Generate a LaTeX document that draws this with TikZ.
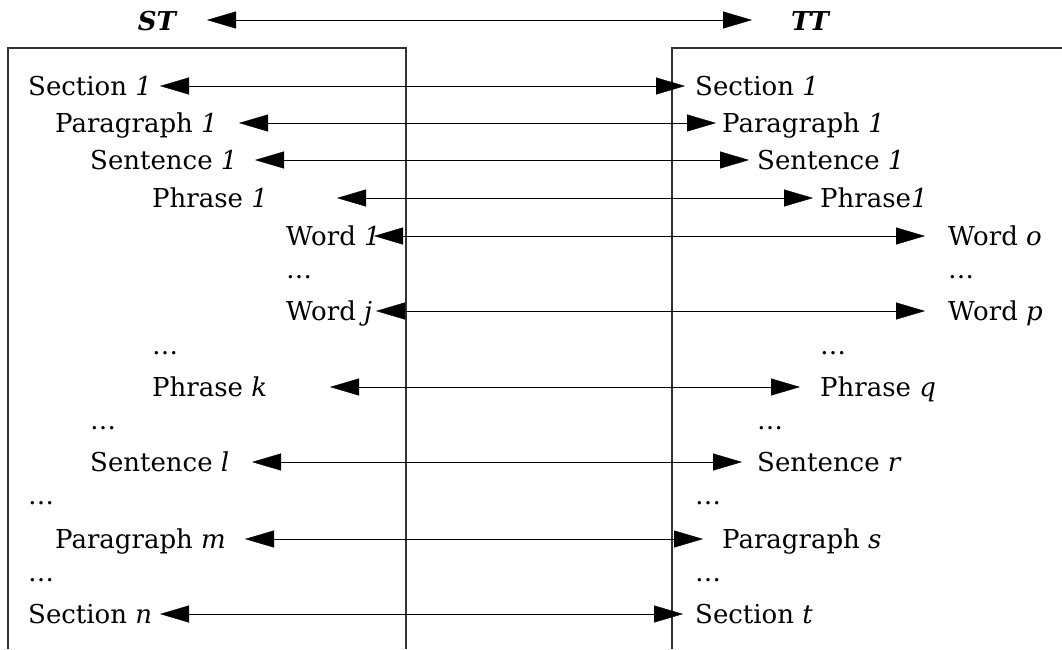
\documentclass[tikz,border=0pt]{standalone}
\usepackage{fontspec}
\setmainfont{DejaVu Serif}
\usetikzlibrary{arrows.meta}
\tikzset{
    lbl/.style={anchor=base west, inner sep=0pt, font=\fontsize{26}{30}\selectfont},
    head/.style={font=\fontsize{26}{30}\selectfont\bfseries\itshape, inner sep=0pt},
    link/.style={thin, {Triangle[length=29pt, width=17pt]}-{Triangle[length=29pt, width=17pt]}},
    frame/.style={line width=1.2pt, black!80},
}

\begin{document}
\begin{tikzpicture}[x=1pt, y=-1pt]

    \useasboundingbox (0,0) rectangle (1062,649);

    % the two text frames, open at the bottom
    \draw[frame] (8,649) -- (8,48) -- (406,48) -- (406,649);
    \draw[frame] (672,649) -- (672,48) -- (1062,48);

    \node[head] (ST) at (157,21) {ST};
    \node[head] (TT) at (810,21) {TT};
    \coordinate (STt) at (207,20);
    \coordinate (TTt) at (752,20);
    \draw[link] (STt) -- (TTt);

    % linked units: row / y / left x / left text / left tip / right tip / right x / right text
    \foreach \n/\y/\lx/\ltxt/\ltip/\rtip/\rx/\rtxt in {
        1/86/28/Section \textit{1}/160/685/695/Section \textit{1},
        2/123/55/Paragraph \textit{1}/239/716/722/Paragraph \textit{1},
        3/160/90/Sentence \textit{1}/255/749/757/Sentence \textit{1},
        4/198/152/Phrase \textit{1}/337/813/820/Phrase\textit{1},
        5/236/286/Word \textit{1}/374/925/948/Word \textit{o},
        7/311/286/Word \textit{j}/376/925/948/Word \textit{p},
        9/387/152/Phrase \textit{k}/330/800/820/Phrase \textit{q},
        11/462/90/Sentence \textit{l}/252/742/757/Sentence \textit{r},
        13/539/55/Paragraph \textit{m}/245/703/722/Paragraph \textit{s},
        15/614/28/Section \textit{n}/160/683/695/Section \textit{t}} {
        \node[lbl] (L\n) at (\lx,\y+9) {\ltxt};
        \node[lbl] (R\n) at (\rx,\y+9) {\rtxt};
        \coordinate (Lt\n) at (\ltip,\y);
        \coordinate (Rt\n) at (\rtip,\y);
        \draw[link] (Lt\n) -- (Rt\n);
    }

    % elided rows
    \foreach \n/\y/\lx/\rx in {6/274/286/948, 8/350/152/820, 10/425/90/757,
        12/500/28/695, 14/577/28/695} {
        \node[lbl] (L\n) at (\lx,\y+4) {\dots};
        \node[lbl] (R\n) at (\rx,\y+4) {\dots};
    }

\end{tikzpicture}
\end{document}
